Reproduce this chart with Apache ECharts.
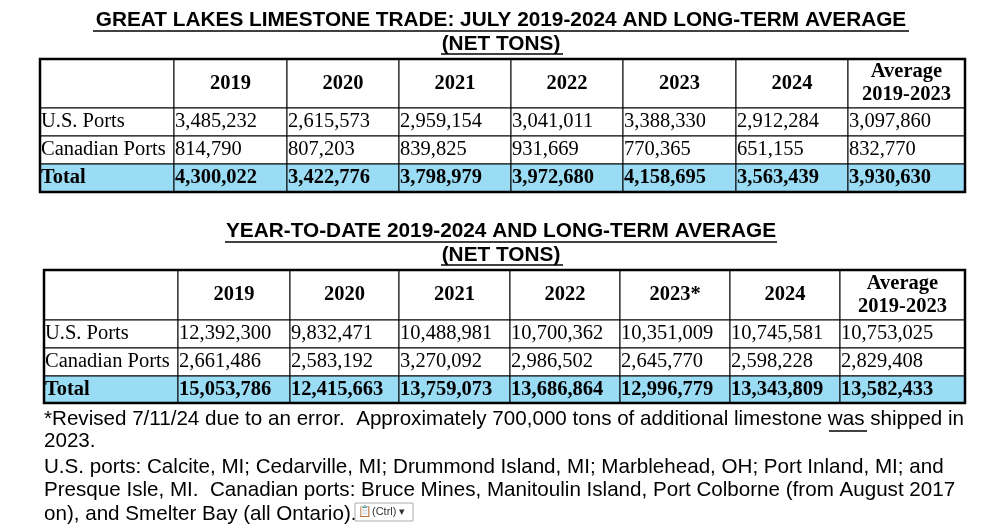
<!DOCTYPE html>
<html><head><meta charset="utf-8">
<script src="https://cdn.jsdelivr.net/npm/echarts@6/dist/echarts.min.js"></script>
<style>html,body{margin:0;background:#fff}#c{width:982px;height:529px}</style>
</head><body><div id="c"></div>
<script>
const headers = ['', '2019', '2020', '2021', '2022', '2023', '2024', 'Average\n2019-2023'];
const headers2 = ['', '2019', '2020', '2021', '2022', '2023*', '2024', 'Average\n2019-2023'];
const rowNames = ['U.S. Ports', 'Canadian Ports', 'Total'];
const julyUS = ['3,485,232', '2,615,573', '2,959,154', '3,041,011', '3,388,330', '2,912,284', '3,097,860'];
const julyCA = ['814,790', '807,203', '839,825', '931,669', '770,365', '651,155', '832,770'];
const julyTotal = ['4,300,022', '3,422,776', '3,798,979', '3,972,680', '4,158,695', '3,563,439', '3,930,630'];
const ytdUS = ['12,392,300', '9,832,471', '10,488,981', '10,700,362', '10,351,009', '10,745,581', '10,753,025'];
const ytdCA = ['2,661,486', '2,583,192', '3,270,092', '2,986,502', '2,645,770', '2,598,228', '2,829,408'];
const ytdTotal = ['15,053,786', '12,415,663', '13,759,073', '13,686,864', '12,996,779', '13,343,809', '13,582,433'];
const notes = [
  '*Revised 7/11/24 due to an error.  Approximately 700,000 tons of additional limestone was shipped in',
  '2023.',
  'U.S. ports: Calcite, MI; Cedarville, MI; Drummond Island, MI; Marblehead, OH; Port Inland, MI; and',
  'Presque Isle, MI.  Canadian ports: Bruce Mines, Manitoulin Island, Port Colborne (from August 2017',
  'on), and Smelter Bay (all Ontario).'
];

const layout1 = { cols: [40, 174, 287, 399, 511, 623, 736, 848, 965], rows: [59, 108, 136, 164, 192] };
const layout2 = { cols: [44, 178, 290, 399, 510, 620, 730, 840, 965], rows: [270, 320, 348, 376, 403] };
const serif = '"Liberation Serif","Times New Roman",serif';
const sans = '"Liberation Sans",Arial,sans-serif';

function cells(hdr, us, ca, tot) {
  const out = [];
  hdr.forEach((h, c) => out.push([0, c, h]));
  [us, ca, tot].forEach((vals, r) => {
    out.push([r + 1, 0, rowNames[r]]);
    vals.forEach((v, c) => out.push([r + 1, c + 1, v]));
  });
  return out;
}

function tableSeries(data, L) {
  return {
    type: 'custom', coordinateSystem: 'none', data: data,
    renderItem: function (params, api) {
      const r = api.value(0), c = api.value(1), txt = data[params.dataIndex][2];
      const x0 = L.cols[c], x1 = L.cols[c + 1], y0 = L.rows[r], y1 = L.rows[r + 1];
      const isHead = r === 0, isTot = r === 3;
      return {
        type: 'group', children: [
          { type: 'rect', shape: { x: x0, y: y0, width: x1 - x0, height: y1 - y0 },
            style: { fill: isTot ? '#9bdcf5' : '#fff', stroke: '#000', lineWidth: 1 } },
          { type: 'text', style: {
              text: txt, x: isHead ? (x0 + x1) / 2 : x0 + 1, y: (y0 + y1) / 2,
              align: isHead ? 'center' : 'left', verticalAlign: 'middle',
              font: (isHead || isTot ? 'bold ' : '') + '20.5px ' + serif, fill: '#000', lineHeight: 23 } }
        ]
      };
    }
  };
}

function outline(L) {
  return { type: 'rect', shape: { x: L.cols[0], y: L.rows[0], width: L.cols[8] - L.cols[0], height: L.rows[4] - L.rows[0] },
    style: { fill: 'none', stroke: '#000', lineWidth: 2.5 }, z: 100 };
}
function title(text, y) {
  return { type: 'text', style: { text: text, x: 501, y: y, align: 'center', verticalAlign: 'middle',
    font: 'bold 20.8px ' + sans, fill: '#000' } };
}
function uline(x0, x1, y) {
  return { type: 'line', shape: { x1: x0, y1: y, x2: x1, y2: y }, style: { stroke: '#000', lineWidth: 1.5 } };
}

const noteY = [419, 441, 467, 490, 514];
const graphics = [
  title('GREAT LAKES LIMESTONE TRADE: JULY 2019-2024 AND LONG-TERM AVERAGE', 20), uline(93, 909, 31),
  title('(NET TONS)', 44), uline(441, 563, 54),
  title('YEAR-TO-DATE 2019-2024 AND LONG-TERM AVERAGE', 231), uline(225, 777, 242),
  title('(NET TONS)', 255), uline(441, 563, 265),
  outline(layout1), outline(layout2),
  uline(829, 867, 431)
];
notes.forEach((t, i) => graphics.push({ type: 'text', style: { text: t, x: 44, y: noteY[i], verticalAlign: 'middle',
  font: '20.6px ' + sans, fill: '#000' } }));
graphics.push({ type: 'rect', shape: { x: 355, y: 503, width: 58, height: 18 }, style: { fill: '#fff', stroke: '#aaa' } });
graphics.push({ type: 'text', style: { text: '📋(Ctrl) ▾', x: 358, y: 512, verticalAlign: 'middle', font: '11px ' + sans, fill: '#333' } });

const chart = echarts.init(document.getElementById('c'));
chart.setOption({
  animation: false,
  series: [
    tableSeries(cells(headers, julyUS, julyCA, julyTotal), layout1),
    tableSeries(cells(headers2, ytdUS, ytdCA, ytdTotal), layout2)
  ],
  graphic: graphics
});
</script></body></html>
